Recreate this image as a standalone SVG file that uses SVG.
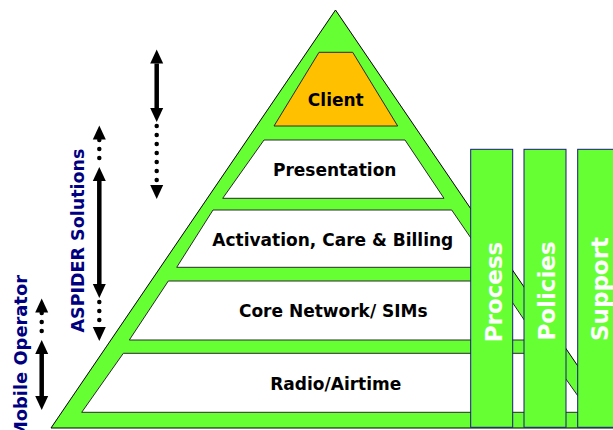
<svg xmlns="http://www.w3.org/2000/svg" width="613" height="430" viewBox="0 0 613 430">
  <defs>
    <style>
      .layer { stroke: #2a2a2a; stroke-width: 1; }
      .lbl { font-family: "DejaVu Sans", Verdana, sans-serif; font-weight: bold; font-size: 17px; fill: #000; text-anchor: middle; }
      .col { fill: #66FF33; stroke: #1a1a7a; stroke-width: 1; }
      .coltxt { font-family: "DejaVu Sans", Verdana, sans-serif; font-weight: bold; font-size: 23px; fill: #fff; text-anchor: middle; }
      .side { font-family: "DejaVu Sans", Verdana, sans-serif; font-weight: bold; font-size: 18.5px; fill: #000080; }
      .solid { stroke: #000; stroke-width: 4.5; fill: none; }
      .dots { stroke: #000; stroke-width: 4.5; fill: none; stroke-linecap: round; stroke-dasharray: 0 9; }
    </style>
    <marker id="head" markerUnits="userSpaceOnUse" markerWidth="16" markerHeight="14" viewBox="0 -7 16 14" refX="0" refY="0" orient="auto-start-reverse">
      <path d="M0,-6.5 L14,0 L0,6.5 z" fill="#000"/>
    </marker>
  </defs>

  <g id="pyramid">
    <polygon points="335.5,10 51,428 620,428" fill="#66FF33" stroke="#000" stroke-width="1"/>
  </g>

  <g id="client">
    <polygon class="layer" points="319,52.3 352.7,52.3 397.7,126 274,126" fill="#FFC000"/>
    <text class="lbl" x="335.8" y="106">Client</text>
  </g>
  <g id="presentation">
    <polygon class="layer" points="264,140 405,140 444,198.3 222.7,198.3" fill="#fff"/>
    <text class="lbl" x="334.7" y="176">Presentation</text>
  </g>
  <g id="activation">
    <polygon class="layer" points="213,210 451.7,210 491,267.3 176.7,267.3" fill="#fff"/>
    <text class="lbl" x="332.8" y="245.7">Activation, Care &amp; Billing</text>
  </g>
  <g id="core">
    <polygon class="layer" points="168.3,281 498,281 537.7,340 129.3,340" fill="#fff"/>
    <text class="lbl" x="333.3" y="317.3">Core Network/ SIMs</text>
  </g>
  <g id="radio">
    <polygon class="layer" points="123.3,353.3 547.7,353.3 589.5,412.3 81.7,412.3" fill="#fff"/>
    <text class="lbl" x="335.8" y="390">Radio/Airtime</text>
  </g>

  <g id="process">
    <rect class="col" x="470.7" y="149.3" width="42" height="278"/>
    <text class="coltxt" transform="translate(501.7,292) rotate(-90)">Process</text>
  </g>
  <g id="policies">
    <rect class="col" x="524" y="149.3" width="42" height="278"/>
    <text class="coltxt" transform="translate(555,291) rotate(-90)">Policies</text>
  </g>
  <g id="support">
    <rect class="col" x="577.7" y="149.3" width="44" height="278"/>
    <text class="coltxt" transform="translate(607.5,289) rotate(-90)">Support</text>
  </g>

  <g id="aspider-label">
    <text class="side" text-anchor="middle" textLength="184" lengthAdjust="spacingAndGlyphs" transform="translate(83.5,240.5) rotate(-90)">ASPIDER Solutions</text>
  </g>
  <g id="operator-label">
    <text class="side" text-anchor="end" textLength="164" lengthAdjust="spacingAndGlyphs" transform="translate(27,275) rotate(-90)">Mobile Operator</text>
  </g>

  <g id="connectors">
    <!-- arrow 1 -->
    <line class="solid" x1="156.7" y1="63.5" x2="156.7" y2="108" marker-start="url(#head)" marker-end="url(#head)"/>
    <line class="dots" x1="156.7" y1="126" x2="156.7" y2="185" marker-end="url(#head)"/>
    <!-- arrow 2 -->
    <line class="dots" x1="99.3" y1="158" x2="99.3" y2="139.5" marker-end="url(#head)"/>
    <line class="solid" x1="99.3" y1="181" x2="99.3" y2="284" marker-start="url(#head)" marker-end="url(#head)"/>
    <line class="dots" x1="99.3" y1="302" x2="99.3" y2="327" marker-end="url(#head)"/>
    <!-- arrow 3 -->
    <line class="dots" x1="41.7" y1="331" x2="41.7" y2="312.5" marker-end="url(#head)"/>
    <line class="solid" x1="41.7" y1="354" x2="41.7" y2="396" marker-start="url(#head)" marker-end="url(#head)"/>
  </g>
</svg>
